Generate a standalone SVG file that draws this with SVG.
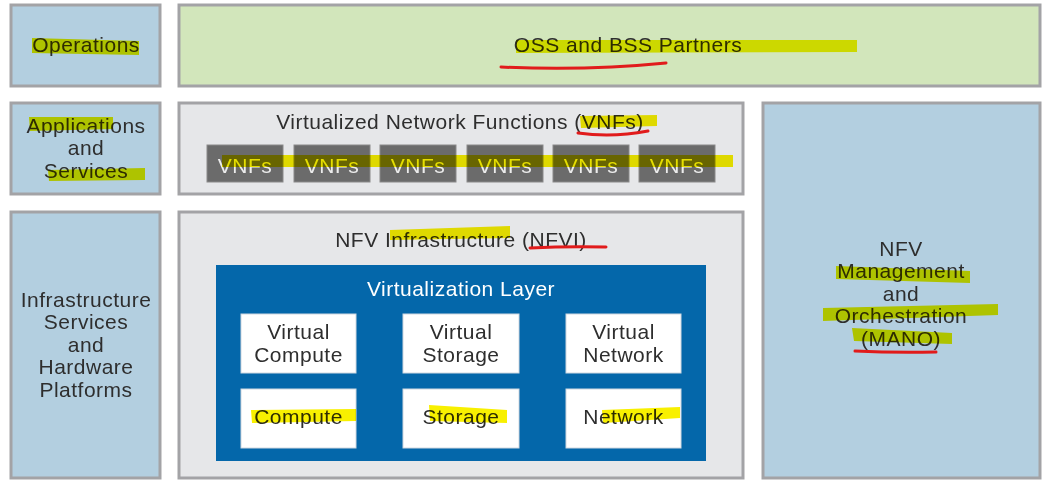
<svg xmlns="http://www.w3.org/2000/svg" width="1055" height="490" viewBox="0 0 1055 490">
<style>
.box{stroke:#a3a3a6;stroke-width:3}
.blue{fill:#b3cfe0}
.green{fill:#d2e6bb}
.grey{fill:#e6e7e9}
.t{font-family:"Liberation Sans",Arial,sans-serif;font-size:21px;letter-spacing:0.5px;fill:#2e2e2e;text-anchor:middle}
.w{fill:#ffffff}
.vt{fill:#ececec}
.vnf{fill:#6b6b6b;stroke:#8a8a8a;stroke-width:1}
.wb{fill:#ffffff;stroke:#d0d8e0;stroke-width:1}
.hl{fill:#f8f000;mix-blend-mode:multiply}
.ul{fill:none;stroke:#e11b1b;stroke-width:3;stroke-linecap:round}
</style>
<rect width="1055" height="490" fill="#ffffff"/>

<g id="operations">
<rect class="box blue" x="11" y="5" width="149" height="81"/>
<text class="t" x="86" y="52">Operations</text>
</g>

<g id="oss-bss">
<rect class="box green" x="179" y="5" width="861" height="81"/>
<text class="t" x="628" y="52">OSS and BSS Partners</text>
</g>

<g id="applications">
<rect class="box blue" x="11" y="103" width="149" height="91"/>
<text class="t" x="86" y="133">Applications</text>
<text class="t" x="86" y="155">and</text>
<text class="t" x="86" y="178">Services</text>
</g>

<g id="vnf-layer">
<rect class="box grey" x="179" y="103" width="564" height="91"/>
<text class="t" x="460" y="129">Virtualized Network Functions (VNFs)</text>
</g>

<g id="vnf-1"><rect class="vnf" x="207" y="145" width="76" height="37"/><text class="t vt" x="245" y="173">VNFs</text></g>
<g id="vnf-2"><rect class="vnf" x="294" y="145" width="76" height="37"/><text class="t vt" x="332" y="173">VNFs</text></g>
<g id="vnf-3"><rect class="vnf" x="380" y="145" width="76" height="37"/><text class="t vt" x="418" y="173">VNFs</text></g>
<g id="vnf-4"><rect class="vnf" x="467" y="145" width="76" height="37"/><text class="t vt" x="505" y="173">VNFs</text></g>
<g id="vnf-5"><rect class="vnf" x="553" y="145" width="76" height="37"/><text class="t vt" x="591" y="173">VNFs</text></g>
<g id="vnf-6"><rect class="vnf" x="639" y="145" width="76" height="37"/><text class="t vt" x="677" y="173">VNFs</text></g>

<g id="mano">
<rect class="box blue" x="763" y="103" width="277" height="375"/>
<text class="t" x="901" y="256">NFV</text>
<text class="t" x="901" y="278">Management</text>
<text class="t" x="901" y="301">and</text>
<text class="t" x="901" y="323">Orchestration</text>
<text class="t" x="901" y="346">(MANO)</text>
</g>

<g id="infrastructure">
<rect class="box blue" x="11" y="212" width="149" height="266"/>
<text class="t" x="86" y="307">Infrastructure</text>
<text class="t" x="86" y="329">Services</text>
<text class="t" x="86" y="352">and</text>
<text class="t" x="86" y="374">Hardware</text>
<text class="t" x="86" y="397">Platforms</text>
</g>

<g id="nfvi">
<rect class="box grey" x="179" y="212" width="564" height="266"/>
<text class="t" x="461" y="247">NFV Infrastructure (NFVI)</text>
</g>

<g id="virtualization-layer">
<rect x="216" y="265" width="490" height="196" fill="#0467aa"/>
<text class="t w" x="461" y="296">Virtualization Layer</text>
</g>

<g id="virtual-compute"><rect class="wb" x="241" y="314" width="115" height="59"/><text class="t" x="298.5" y="339">Virtual</text><text class="t" x="298.5" y="362">Compute</text></g>
<g id="virtual-storage"><rect class="wb" x="403" y="314" width="116" height="59"/><text class="t" x="461" y="339">Virtual</text><text class="t" x="461" y="362">Storage</text></g>
<g id="virtual-network"><rect class="wb" x="566" y="314" width="115" height="59"/><text class="t" x="623.5" y="339">Virtual</text><text class="t" x="623.5" y="362">Network</text></g>
<g id="compute"><rect class="wb" x="241" y="389" width="115" height="59"/><text class="t" x="298.5" y="424">Compute</text></g>
<g id="storage"><rect class="wb" x="403" y="389" width="116" height="59"/><text class="t" x="461" y="424">Storage</text></g>
<g id="network"><rect class="wb" x="566" y="389" width="115" height="59"/><text class="t" x="623.5" y="424">Network</text></g>

<g id="connectors"></g>

<g id="annotations">
<polygon class="hl" points="32,38 139,41 139,55 32,53"/>
<polygon class="hl" points="516,40 857,40 857,52 516,53"/>
<polygon class="hl" points="29,117 113,117 113,129 30,131"/>
<polygon class="hl" points="48,170 145,168 145,180 49,181"/>
<polygon class="hl" points="580,116 657,115 657,126 581,128"/>
<polygon class="hl" points="222,155 733,155 733,167 222,167"/>
<polygon class="hl" points="390,230 510,226 510,238 390,240"/>
<polygon class="hl" points="251,410 356,409 356,421 252,423"/>
<polygon class="hl" points="429,405 507,410 507,423 430,421"/>
<polygon class="hl" points="602,410 680,407 680,418 603,423"/>
<polygon class="hl" points="836,266 970,271 970,283 836,279"/>
<polygon class="hl" points="823,308 998,304 998,315 823,321"/>
<polygon class="hl" points="852,328 952,333 952,344 854,341"/>
<path class="ul" d="M501,67 Q585,71 666,63"/>
<path class="ul" d="M578,133 Q612,138 648,131"/>
<path class="ul" d="M530,248 Q568,246 606,247"/>
<path class="ul" d="M855,351 Q895,353 936,352"/>
</g>
</svg>
